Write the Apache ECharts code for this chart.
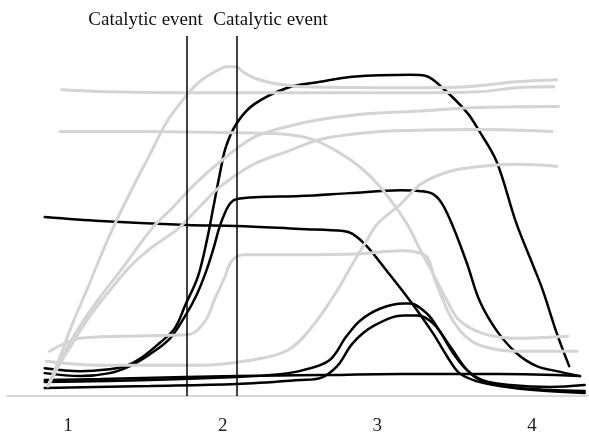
<!DOCTYPE html>
<html>
<head>
<meta charset="utf-8">
<script src="https://cdn.jsdelivr.net/npm/echarts@6/dist/echarts.min.js"></script>
<style>
  html, body { margin: 0; padding: 0; background: #fff; }
  #chart { width: 589px; height: 436px; }
</style>
</head>
<body>
<div id="chart"></div>
<script>
// x 轴刻度
const xTicks = [1, 2, 3, 4];
// 两条事件竖线
const eventX = [1.77, 2.09];
const eventLabel = 'Catalytic event';

// 黑色曲线
const black1 = [[0.85,28],[1.08,25],[1.27,27],[1.37,30],[1.47,38],[1.59,53],[1.69,68],[1.76,92],[1.84,120],[1.90,158],[1.94,190],[1.98,222],[2.02,250],[2.09,274],[2.20,293],[2.42,310],[2.63,316],[2.84,321],[3.21,323],[3.31,322],[3.42,310],[3.58,285],[3.66,266],[3.77,236],[3.90,173],[4.01,130],[4.07,106],[4.16,63],[4.24,30]];
const black2 = [[0.85,23],[1.08,20],[1.27,23],[1.40,30],[1.53,42],[1.66,58],[1.76,81],[1.83,101],[1.89,124],[1.94,148],[1.98,170],[2.02,186],[2.05,194],[2.09,198],[2.24,200],[2.50,201],[2.82,204],[3.15,207],[3.28,206],[3.36,203],[3.42,193],[3.49,170],[3.58,133],[3.66,96],[3.77,66],[3.90,43],[4.03,30],[4.16,25],[4.31,20]];
const black3 = [[0.85,16],[1.21,17],[1.76,19],[2.09,20],[2.63,21],[3.15,22],[3.79,22],[4.31,20]];
const black4 = [[0.85,14],[1.53,16],[2.09,19],[2.37,22],[2.52,26],[2.69,36],[2.80,60],[2.89,76],[3.02,88],[3.17,93],[3.21,93],[3.32,83],[3.40,66],[3.49,43],[3.58,26],[3.68,16],[3.86,11],[4.12,9],[4.34,11]];
const black5 = [[0.85,8],[1.53,10],[2.09,12],[2.50,16],[2.63,18],[2.74,30],[2.84,53],[2.97,70],[3.17,81],[3.26,81],[3.36,73],[3.47,50],[3.58,26],[3.68,15],[3.86,9],[4.12,6],[4.34,5]];
const black6 = [[0.85,180],[1.21,176],[1.77,172],[2.09,171],[2.50,168],[2.78,166],[2.84,163],[2.93,151],[3.06,126],[3.21,96],[3.36,63],[3.45,40],[3.53,23],[3.64,15],[3.79,10],[4.01,6],[4.34,3]];

// 灰色曲线
const gray1 = [[0.96,308],[1.25,306],[1.77,305],[1.98,305],[3.21,305],[3.66,306],[3.90,310],[4.14,311]];
const gray2 = [[0.88,13],[0.95,40],[1.03,73],[1.12,106],[1.21,140],[1.30,172],[1.42,210],[1.53,243],[1.64,276],[1.77,303],[1.85,316],[1.95,326],[2.03,331],[2.09,331],[2.13,326],[2.20,320],[2.31,315],[2.52,311],[3.21,310],[3.58,311],[3.90,316],[4.16,318]];
const gray3 = [[0.95,266],[1.47,266],[1.98,265],[2.42,263],[2.58,258],[2.74,246],[2.89,230],[3.02,210],[3.15,183],[3.21,168],[3.28,146],[3.36,123],[3.45,96],[3.53,76],[3.68,63],[3.90,58],[4.23,60]];
const gray4 = [[0.88,45],[0.98,53],[1.08,58],[1.34,60],[1.66,61],[1.79,62],[1.89,76],[1.95,98],[2.01,118],[2.06,136],[2.14,142],[2.50,142],[2.89,143],[3.15,146],[3.24,145],[3.32,140],[3.37,118],[3.42,98],[3.48,78],[3.57,60],[3.68,50],[3.90,45],[4.29,45]];
const gray5 = [[0.86,35],[1.21,31],[1.85,31],[2.18,36],[2.42,46],[2.58,70],[2.74,106],[2.84,133],[2.93,156],[3.00,173],[3.15,193],[3.28,213],[3.47,226],[3.68,231],[3.90,233],[4.16,231]];
const gray6 = [[0.87,10],[0.94,33],[1.01,53],[1.11,78],[1.21,100],[1.34,126],[1.54,168],[1.68,190],[1.82,213],[1.98,235],[2.20,260],[2.42,271],[2.63,278],[2.95,284],[3.21,286],[3.66,290],[4.17,291]];
const gray7 = [[0.87,10],[0.95,33],[1.01,48],[1.14,80],[1.27,106],[1.40,130],[1.53,148],[1.71,168],[1.85,190],[1.98,210],[2.20,233],[2.42,246],[2.63,258],[2.95,265],[3.21,267],[3.66,268],[4.13,266]];

const blackSeries = [black1, black2, black3, black4, black5, black6];
const graySeries = [gray1, gray2, gray3, gray4, gray5, gray6, gray7];

const chart = echarts.init(document.getElementById('chart'));

const makeLine = (data, color, width) => ({
  type: 'line',
  data: data,
  smooth: 0.35,
  showSymbol: false,
  silent: true,
  lineStyle: { color: color, width: width, cap: 'round' },
});

const series = [];
blackSeries.forEach(d => series.push(makeLine(d, '#000000', 2.5)));
graySeries.forEach(d => series.push(makeLine(d, '#d4d4d4', 3)));

// 竖线 + 标签
series.push({
  type: 'line',
  data: [],
  markLine: {
    silent: true,
    symbol: 'none',
    animation: false,
    lineStyle: { color: '#000000', width: 1.5, type: 'solid' },
    label: {
      position: 'end',
      distance: 6,
      formatter: eventLabel,
      fontFamily: 'Liberation Serif',
      fontSize: 19,
      color: '#111111',
    },
    data: [
      [
        { coord: [eventX[0], 0], label: { padding: [0, 83, 0, 0] } },
        { coord: [eventX[0], 362] },
      ],
      [
        { coord: [eventX[1], 0], label: { padding: [0, 0, 0, 68] } },
        { coord: [eventX[1], 362] },
      ],
    ],
  },
});

const option = {
  animation: false,
  grid: { left: 7, right: 0, top: 36, bottom: 38 },
  xAxis: {
    type: 'value',
    min: 0.606,
    max: 4.368,
    axisLine: { show: true, lineStyle: { color: '#d9d9d9', width: 2 } },
    axisTick: { show: false },
    splitLine: { show: false },
    axisLabel: {
      customValues: xTicks,
      margin: 21,
      fontFamily: 'Liberation Serif',
      fontSize: 19,
      color: '#222222',
    },
  },
  yAxis: {
    type: 'value',
    min: 0,
    max: 362,
    show: false,
  },
  series: series,
};

chart.setOption(option);
</script>
</body>
</html>
